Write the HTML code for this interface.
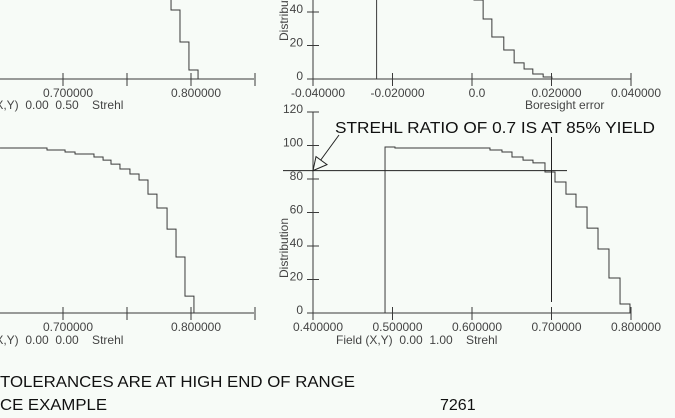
<!DOCTYPE html>
<html><head><meta charset="utf-8">
<style>
html,body{margin:0;padding:0;background:#f7fbf7;}
svg{display:block;}
text{font-family:"Liberation Sans",sans-serif;white-space:pre;}
</style></head>
<body>
<svg id="c" width="675" height="418" viewBox="0 0 675 418" xmlns="http://www.w3.org/2000/svg">
<rect width="675" height="418" fill="#f7fbf7"/>
</svg>
<script>
// ---- data ----
const yTicks = [0, 20, 40, 60, 80, 100, 120];
// top-left panel: Strehl at field 0.50
const tlEdges = [0.7758, 0.7844, 0.7914, 0.7984, 0.8055];
const tlHeights = [60, 41.2, 22.1, 5.4];
// bottom-left panel: Strehl at field 0.00
const blEdges = [0.6508,0.6875,0.7016,0.7094,0.7242,0.7313,0.7375,0.7445,0.7523,0.7594,0.7664,0.7734,0.7813,0.7883,0.7953,0.8023];
const blHeights = [98.5,97.3,96.1,94.9,93.1,91.3,88.9,86.0,83.0,79.4,71.0,62.7,50.1,33.4,10.1];
const leftXTicks = [0.7, 0.75, 0.8, 0.85];
const leftXLabels = ["0.700000", "", "0.800000", ""];
// top-right panel: boresight error
const trEdges = [-0.002, 0.0005, 0.0028, 0.005, 0.008, 0.0106, 0.0131, 0.0153, 0.0179, 0.0201];
const trHeights = [60, 47.2, 35.8, 25.1, 17.3, 9.6, 6.0, 3.0, 1.2];
const trXTicks = [-0.04, -0.02, 0, 0.02, 0.04];
const trXLabels = ["-0.040000", "-0.020000", "0.0", "0.020000", "0.040000"];
const trMarker = -0.024;
// bottom-right panel: Strehl at field 1.00
const brEdges = [0.4906,0.5031,0.6226,0.6377,0.6503,0.6642,0.6767,0.6918,0.7044,0.7182,0.7308,0.7447,0.7585,0.7723,0.7862,0.7987];
const brHeights = [99.1,98.5,97.3,96.1,93.1,91.3,89.6,84.2,78.2,71.0,63.3,50.7,38.2,20.9,5.4];
const brXTicks = [0.4, 0.5, 0.6, 0.7, 0.8];
const brXLabels = ["0.400000", "0.500000", "0.600000", "0.700000", "0.800000"];
const yieldLevel = 85;
const strehlSpec = 0.7;

const svg = document.getElementById('c');
const NS = 'http://www.w3.org/2000/svg';
function mk(tag, attrs, parent){
  const e = document.createElementNS(NS, tag);
  for (const k in attrs) e.setAttribute(k, attrs[k]);
  (parent||svg).appendChild(e);
  return e;
}
function lin(d0,d1,p0,p1){ return v => p0 + (v-d0)*(p1-p0)/(d1-d0); }
const STROKE = '#3a3a3a';

function panel(name, xs, ys, axisX0, axisX1, yAxisX, xTicks, xLabels, edges, heights, fromAxis){
  const g = mk('g', {});
  
  
  const ax = mk('line', {x1:axisX0, y1:ys(0), x2:axisX1, y2:ys(0), stroke:STROKE, 'stroke-width':1}, g);
  
  
  xTicks.forEach((t,i) => {
    const x = xs(t);
    const tk = mk('line', {x1:x, y1:ys(0)-6, x2:x, y2:ys(0)+7, stroke:STROKE}, g);
    
    
    if (xLabels[i]) {
      const tx = mk('text', {x:x+5, y:ys(0)+18, 'font-size':12, fill:'#444', 'text-anchor':'middle'}, g);
      tx.textContent = xLabels[i];
      
      
    }
  });
  if (yAxisX !== null) {
    const ay = mk('line', {x1:yAxisX, y1:ys(0), x2:yAxisX, y2:ys(120), stroke:STROKE}, g);
    
    
    yTicks.forEach(t => {
      const y = ys(t);
      const tk = mk('line', {x1:yAxisX-6, y1:y, x2:yAxisX+6, y2:y, stroke:STROKE}, g);
      
      
      const tx = mk('text', {x:yAxisX-10, y:y+1, 'font-size':12, fill:'#444', 'text-anchor':'end'}, g);
      tx.textContent = String(t);
      
      
    });
  }
  let d = fromAxis ? 'M' + xs(edges[0]) + ' ' + ys(0) + ' L' : 'M';
  d += xs(edges[0]) + ' ' + ys(heights[0]) + ' L' + xs(edges[1]) + ' ' + ys(heights[0]);
  for (let i=1;i<heights.length;i++){
    d += ' L' + xs(edges[i]) + ' ' + ys(heights[i]) + ' L' + xs(edges[i+1]) + ' ' + ys(heights[i]);
  }
  d += ' L' + xs(edges[edges.length-1]) + ' ' + ys(0);
  const p = mk('path', {d:d, fill:'none', stroke:STROKE, 'stroke-width':1}, g);
  
  
  return g;
}
function label(txt, attrs, name){
  const t = mk('text', attrs);
  t.textContent = txt;
  
  
  return t;
}

const ysTop = lin(0, 120, 79, 79-201);
const ysBot = lin(0, 120, 313, 112);
const xsLeft = lin(0.7, 0.8, 63, 191);
const xsTR = lin(-0.04, 0.04, 313, 631);
const xsBR = lin(0.4, 0.8, 313, 631);

panel('top-left-panel', xsLeft, ysTop, 0, 254, null, leftXTicks, leftXLabels, tlEdges, tlHeights, false);
label('Field (X,Y)  0.00  0.50    Strehl', {x:-38, y:109, 'font-size':12, fill:'#444'}, 'top-left-x-title');

panel('bottom-left-panel', xsLeft, ysBot, 0, 254, null, leftXTicks, leftXLabels, blEdges, blHeights, false);
label('Field (X,Y)  0.00  0.00    Strehl', {x:-38, y:344, 'font-size':12, fill:'#444'}, 'bottom-left-x-title');

panel('top-right-panel', xsTR, ysTop, 313, 631, 313, trXTicks, trXLabels, trEdges, trHeights, false);
const mv = mk('line', {x1:xsTR(trMarker), y1:0, x2:xsTR(trMarker), y2:ysTop(0), stroke:STROKE});


label('Boresight error', {x:525, y:109, 'font-size':12, fill:'#444'}, 'top-right-x-title');
label('Distribution', {x:0, y:0, 'font-size':12, fill:'#444', transform:'translate(288,41) rotate(-90)'}, 'top-right-y-title');

panel('bottom-right-panel', xsBR, ysBot, 313, 631, 313, brXTicks, brXLabels, brEdges, brHeights, true);
label('Field (X,Y)  0.00  1.00    Strehl', {x:336, y:344, 'font-size':12, fill:'#444'}, 'bottom-right-x-title');
label('Distribution', {x:0, y:0, 'font-size':12, fill:'#444', transform:'translate(288,278) rotate(-90)'}, 'bottom-right-y-title');

const hy = ysBot(yieldLevel);
const hl = mk('line', {x1:283, y1:hy, x2:567, y2:hy, stroke:'#222'});


const vl = mk('line', {x1:xsBR(strehlSpec), y1:137, x2:xsBR(strehlSpec), y2:302, stroke:'#222'});


const ar = mk('line', {x1:313, y1:hy, x2:339, y2:135, stroke:'#222'});


const ah = mk('polygon', {points:`313,${hy} 316,${hy-14} 327,${hy-6}`, fill:'#f7fbf7', stroke:'#222'});


label('STREHL RATIO OF 0.7 IS AT 85% YIELD', {x:335, y:133, 'font-size':16, fill:'#111', textLength:320, lengthAdjust:'spacingAndGlyphs'}, 'annotation-text');

label('TOLERANCES ARE AT HIGH END OF RANGE', {x:0, y:387, 'font-size':16, fill:'#111', textLength:355, lengthAdjust:'spacingAndGlyphs'}, 'footer-note');
label('CE EXAMPLE', {x:0, y:410, 'font-size':16, fill:'#111', textLength:107, lengthAdjust:'spacingAndGlyphs'}, 'footer-title');
label('7261', {x:440, y:410, 'font-size':16, fill:'#111'}, 'footer-number');
</script>
</body></html>
